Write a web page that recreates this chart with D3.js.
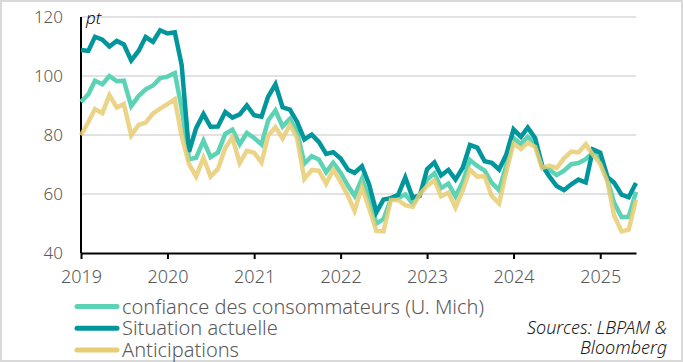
<!DOCTYPE html>
<html>
<head>
<meta charset="utf-8">
<script src="https://cdn.jsdelivr.net/npm/d3@7"></script>
<style>
	body { margin: 0; background: #fff; }
	svg { display: block; font-family: "Noto Sans", sans-serif; font-weight: 300; }
</style>
</head>
<body>
<div id="chart"></div>
<script>
// monthly values, Jan 2019 -> Jun 2025
var startMonth = "2019-01";

var confiance = [
	91.2, 93.8, 98.4, 97.2, 100.0, 98.2, 98.4, 89.8, 93.2, 95.5, 96.8, 99.3,
	99.8, 101.0, 89.1, 71.8, 72.3, 78.1, 72.5, 74.1, 80.4, 81.8, 76.9, 80.7,
	79.0, 76.8, 84.9, 88.3, 82.9, 85.5, 81.2, 70.3, 72.8, 71.7, 67.4, 70.6,
	67.2, 62.8, 59.4, 65.2, 58.4, 50.0, 51.5, 58.2, 58.6, 59.9, 56.8, 59.7,
	64.9, 67.0, 62.0, 63.5, 59.2, 64.2, 71.5, 69.5, 67.9, 63.8, 61.3, 69.7,
	79.0, 76.9, 79.4, 77.2, 69.1, 68.2, 66.4, 67.9, 70.1, 70.5, 71.8, 74.0,
	71.7, 64.7, 57.0, 52.2, 52.2, 60.7
];

var situation = [
	108.8, 108.5, 113.3, 112.3, 110.0, 111.9, 110.7, 105.3, 108.5, 113.2, 111.6, 115.5,
	114.4, 114.8, 103.7, 74.3, 82.3, 87.1, 82.8, 82.9, 87.8, 85.9, 87.0, 90.0,
	86.7, 86.2, 93.0, 97.2, 89.4, 88.6, 84.5, 78.5, 80.1, 77.7, 73.6, 74.2,
	72.0, 68.2, 67.2, 69.4, 63.3, 53.8, 58.1, 58.6, 59.7, 65.6, 58.8, 59.4,
	68.4, 70.7, 66.3, 68.2, 64.9, 69.0, 76.6, 75.7, 71.1, 70.6, 68.3, 73.3,
	81.9, 79.4, 82.5, 79.0, 69.6, 65.9, 62.7, 61.3, 63.3, 64.9, 63.9, 75.1,
	74.0, 65.7, 63.8, 59.8, 58.9, 63.7
];

var anticipations = [
	79.9, 84.4, 88.8, 87.4, 93.5, 89.3, 90.5, 79.9, 83.4, 84.2, 87.3, 88.9,
	90.5, 92.1, 79.7, 70.1, 65.9, 72.3, 65.9, 68.5, 75.6, 79.2, 70.5, 74.6,
	74.0, 70.7, 79.7, 82.7, 78.8, 83.5, 79.0, 65.1, 68.1, 67.9, 63.5, 68.3,
	64.1, 59.4, 54.3, 62.5, 55.2, 47.5, 47.3, 58.0, 58.0, 56.2, 55.6, 59.9,
	62.7, 64.7, 59.2, 60.5, 55.4, 61.3, 68.3, 65.9, 66.0, 59.3, 56.8, 67.4,
	77.1, 75.2, 77.4, 76.0, 68.8, 69.6, 68.8, 72.1, 74.4, 74.1, 76.9, 73.3,
	70.2, 64.0, 52.6, 47.3, 47.9, 58.1
];

var yTicks = [40, 60, 80, 100, 120];
var xTicks = ["2019", "2020", "2021", "2022", "2023", "2024", "2025"];

var seriesNames = ["confiance des consommateurs (U. Mich)", "Situation actuelle", "Anticipations"];
var seriesColors = ["#5dd3b6", "#00969b", "#e8cd73"];
var sources = ["Sources: LBPAM &", "Bloomberg"];

var W = 683, H = 362;
var parse = d3.timeParse("%Y-%m");
var t0 = parse(startMonth);

function toPoints(arr) {
	return arr.map(function (v, i) {
		return {date: d3.timeMonth.offset(t0, i), value: v};
	});
}

var svg = d3.select("#chart")
	.append("svg")
	.attr("width", W)
	.attr("height", H);

// frame
svg.append("rect")
	.attr("x", 1).attr("y", 1)
	.attr("width", W - 2).attr("height", H - 2)
	.attr("fill", "#fff")
	.attr("stroke", "#d9d9d9")
	.attr("stroke-width", 2);

var x = d3.scaleTime()
	.domain([t0, d3.timeMonth.offset(t0, confiance.length - 1)])
	.range([81, 636]);

var y = d3.scaleLinear()
	.domain([40, 120])
	.range([253, 17]);

// grid
svg.append("g")
	.selectAll("line")
	.data(yTicks.filter(function (d) { return d > 40; }))
	.enter()
	.append("line")
	.attr("x1", 81).attr("x2", 636)
	.attr("y1", function (d) { return y(d); })
	.attr("y2", function (d) { return y(d); })
	.attr("stroke", "#d9d9d9")
	.attr("stroke-width", 1.5);

// y labels
svg.append("g")
	.selectAll("text")
	.data(yTicks)
	.enter()
	.append("text")
	.attr("x", 63)
	.attr("y", function (d) { return y(d) + 6; })
	.attr("text-anchor", "end")
	.attr("font-size", 17)
	.attr("fill", "#595959")
	.text(function (d) { return d; });

// x axis
var xAxis = d3.axisBottom(x)
	.tickValues(xTicks.map(function (d) { return d3.timeParse("%Y")(d); }))
	.tickFormat(d3.timeFormat("%Y"))
	.tickSize(6)
	.tickSizeOuter(0);

var gx = svg.append("g")
	.attr("transform", "translate(0," + y(40) + ")")
	.call(xAxis);
gx.select(".domain").attr("stroke", "#000").attr("stroke-width", 2);
gx.selectAll(".tick line").attr("stroke", "#000").attr("stroke-width", 2);
gx.selectAll(".tick text")
	.attr("y", 17)
	.attr("dy", "0.71em")
	.attr("font-size", 18)
	.attr("font-family", "Noto Sans, sans-serif")
	.attr("font-weight", 300)
	.attr("fill", "#595959");

// y axis line
svg.append("line")
	.attr("x1", 81).attr("x2", 81)
	.attr("y1", y(120)).attr("y2", y(40))
	.attr("stroke", "#000")
	.attr("stroke-width", 2);

svg.append("text")
	.attr("x", 86)
	.attr("y", 24)
	.attr("font-size", 17)
	.attr("font-style", "italic")
	.attr("fill", "#000")
	.text("pt");

var line = d3.line()
	.x(function (d) { return x(d.date); })
	.y(function (d) { return y(d.value); });

var allSeries = [confiance, situation, anticipations];

svg.append("g")
	.selectAll("path")
	.data(allSeries)
	.enter()
	.append("path")
	.attr("d", function (d) { return line(toPoints(d)); })
	.attr("fill", "none")
	.attr("stroke", function (d, i) { return seriesColors[i]; })
	.attr("stroke-width", 4.5)
	.attr("stroke-opacity", function (d, i) { return i == 2 ? 0.85 : 1; })
	.attr("stroke-linejoin", "miter");

// legend
var legend = svg.append("g");
legend.selectAll("g")
	.data(seriesNames)
	.enter()
	.append("g")
	.each(function (d, i) {
		var g = d3.select(this);
		var ly = 306.5 + i * 21.7;
		g.append("line")
			.attr("x1", 77).attr("x2", 117)
			.attr("y1", ly).attr("y2", ly)
			.attr("stroke", seriesColors[i])
			.attr("stroke-width", 5)
			.attr("stroke-linecap", "round");
		g.append("text")
			.attr("x", 122)
			.attr("y", ly + 7)
			.attr("font-size", 20)
			.attr("fill", "#595959")
			.text(d);
	});

svg.append("g")
	.selectAll("text")
	.data(sources)
	.enter()
	.append("text")
	.attr("x", 667)
	.attr("y", function (d, i) { return 334 + i * 19.5; })
	.attr("text-anchor", "end")
	.attr("font-size", 18)
	.attr("font-style", "italic")
	.attr("fill", "#1a1a1a")
	.text(function (d) { return d; });
</script>
</body>
</html>
